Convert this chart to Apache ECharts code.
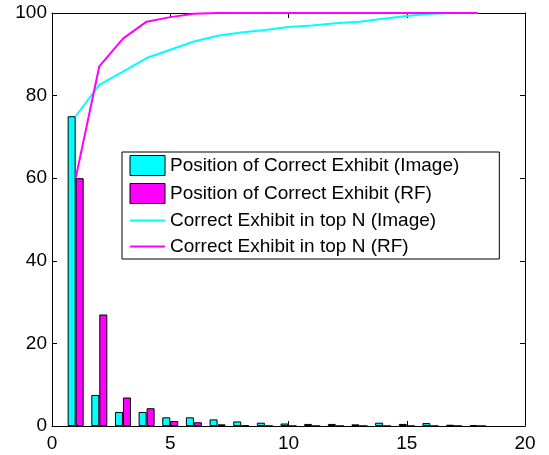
<!DOCTYPE html>
<html>
<head>
<meta charset="utf-8">
<script src="https://cdn.jsdelivr.net/npm/echarts@6/dist/echarts.min.js"></script>
<style>
    html, body { margin: 0; padding: 0; background: #fff; }
    #chart { width: 549px; height: 455px; }
</style>
</head>
<body>
<div id="chart"></div>
<script>
// rank position 1..18
var positions = [1, 2, 3, 4, 5, 6, 7, 8, 9, 10, 11, 12, 13, 14, 15, 16, 17, 18];
var imageBars = [75, 7.5, 3.4, 3.4, 2.1, 2.1, 1.6, 1.1, 0.8, 0.6, 0.5, 0.5, 0.4, 0.8, 0.5, 0.7, 0.3, 0.2];
var rfBars = [60, 27, 6.9, 4.3, 1.2, 0.9, 0.4, 0.1, 0, 0, 0, 0, 0, 0, 0, 0, 0, 0];
var imageTopN = [75, 82.6, 85.8, 89.1, 91.1, 93.1, 94.5, 95.3, 95.9, 96.6, 97.0, 97.5, 97.9, 98.6, 99.3, 99.8, 100, 100];
var rfTopN = [60, 87.1, 93.8, 97.9, 99.0, 99.8, 100, 100, 100, 100, 100, 100, 100, 100, 100, 100, 100, 100];
var xTicks = [0, 5, 10, 15, 20];
var yTicks = [0, 20, 40, 60, 80, 100];

function pairs(ys) {
    return positions.map(function (x, i) { return [x, ys[i]]; });
}

var font = "Liberation Sans, Arial, sans-serif";
var myChart = echarts.init(document.getElementById("chart"));

var boxAxis = {
    axisLine: { show: true, onZero: false, lineStyle: { color: "#000", width: 1 } },
    axisTick: { show: true, inside: true, length: 5, lineStyle: { color: "#000" } },
    splitLine: { show: false },
};

// legend entries: bars get plain rects, lines get a bare stroke
var hiddenSymbol = { color: "rgba(0,0,0,0)", borderColor: "rgba(0,0,0,0)", borderWidth: 0 };

var options = {
    animation: false,
    grid: { left: 52, right: 24, top: 13, bottom: 29 },
    legend: {
        orient: "vertical",
        left: 122,
        top: 152,
        padding: [3, 40, 3, 7],
        itemGap: 7,
        itemWidth: 35,
        itemHeight: 20,
        backgroundColor: "#fff",
        borderColor: "#000",
        borderWidth: 1,
        borderRadius: 0,
        textStyle: { color: "#000", fontSize: 19, fontFamily: font },
        data: [
            { name: "Position of Correct Exhibit (Image)", icon: "rect", itemStyle: { borderWidth: 1, borderColor: "#000" } },
            { name: "Position of Correct Exhibit (RF)", icon: "rect", itemStyle: { borderWidth: 1, borderColor: "#000" } },
            { name: "Correct Exhibit in top N (Image)", itemStyle: hiddenSymbol },
            { name: "Correct Exhibit in top N (RF)", itemStyle: hiddenSymbol },
        ],
    },
    xAxis: [
        Object.assign({}, boxAxis, {
            type: "value",
            min: xTicks[0],
            max: xTicks[xTicks.length - 1],
            interval: 5,
            position: "bottom",
            axisLabel: { color: "#000", fontSize: 19, fontFamily: font, margin: 8 },
        }),
        Object.assign({}, boxAxis, {
            type: "value",
            min: xTicks[0],
            max: xTicks[xTicks.length - 1],
            interval: 5,
            position: "top",
            axisLabel: { show: false },
        }),
    ],
    yAxis: [
        Object.assign({}, boxAxis, {
            type: "value",
            min: yTicks[0],
            max: yTicks[yTicks.length - 1],
            interval: 20,
            position: "left",
            axisLabel: { color: "#000", fontSize: 19, fontFamily: font, margin: 5 },
        }),
        Object.assign({}, boxAxis, {
            type: "value",
            min: yTicks[0],
            max: yTicks[yTicks.length - 1],
            interval: 20,
            position: "right",
            axisLabel: { show: false },
        }),
    ],
    series: [
        {
            name: "Position of Correct Exhibit (Image)",
            type: "bar",
            data: pairs(imageBars),
            barWidth: 8,
            barGap: "0%",
            itemStyle: { color: "#00ffff", borderColor: "#000", borderWidth: 1 },
            z: 2,
        },
        {
            name: "Position of Correct Exhibit (RF)",
            type: "bar",
            data: pairs(rfBars),
            barWidth: 8,
            barGap: "0%",
            itemStyle: { color: "#ff00ff", borderColor: "#000", borderWidth: 1 },
            z: 2,
        },
        {
            name: "Correct Exhibit in top N (Image)",
            type: "line",
            data: pairs(imageTopN),
            symbol: "none",
            lineStyle: { color: "#00ffff", width: 2 },
            itemStyle: { color: "#00ffff" },
            z: 3,
        },
        {
            name: "Correct Exhibit in top N (RF)",
            type: "line",
            data: pairs(rfTopN),
            symbol: "none",
            lineStyle: { color: "#ff00ff", width: 2 },
            itemStyle: { color: "#ff00ff" },
            z: 4,
        },
    ],
};
myChart.setOption(options);
</script>
</body>
</html>
